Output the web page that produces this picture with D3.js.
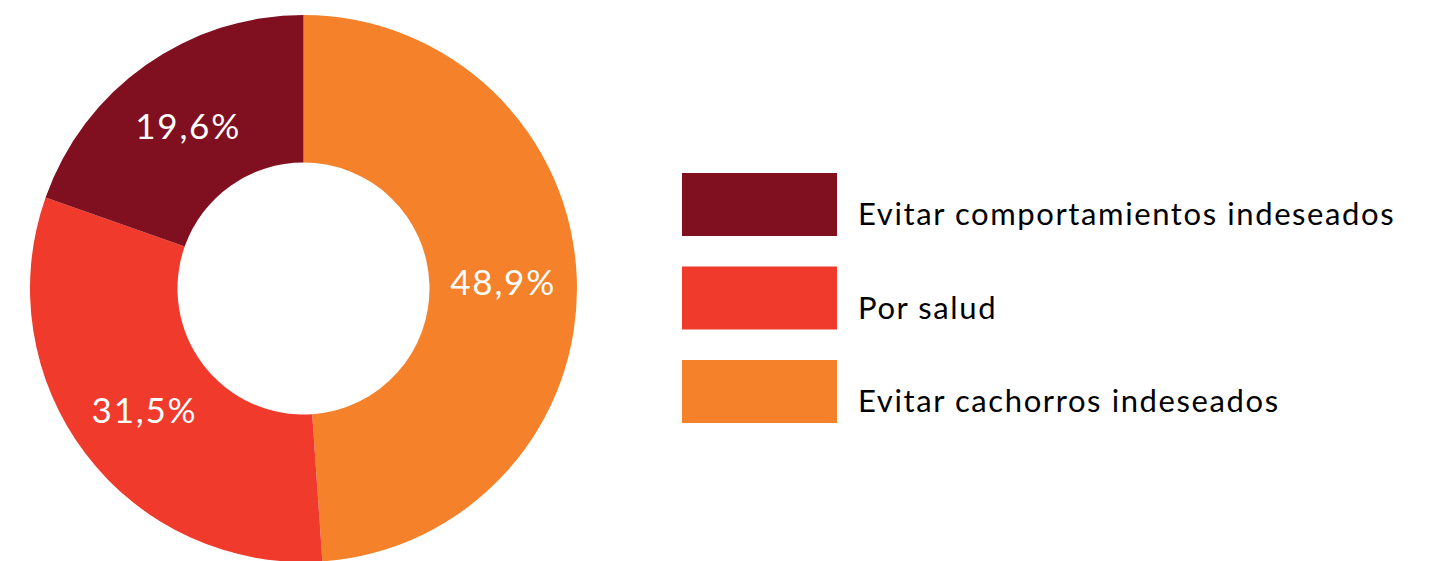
<!DOCTYPE html>
<html><head><meta charset="utf-8">
<script src="https://cdn.jsdelivr.net/npm/d3@7"></script>
<style>body{margin:0;background:#fff;} svg{display:block;}</style>
</head><body>
<svg id="c" width="1435" height="561"></svg>
<script>
const categories = ["Evitar cachorros indeseados", "Por salud", "Evitar comportamientos indeseados"];
const values = [48.9, 31.5, 19.6];
const labels = ["48,9%", "31,5%", "19,6%"];
const colors = ["#f5822a", "#ef3a2c", "#800f20"];
const legendOrder = [2, 1, 0];

const svg = d3.select("#c");
const cx = 303.5, cy = 288.5, outerR = 273.5, innerR = 126;
const g = svg.append("g").attr("transform", `translate(${cx},${cy})`);
const pie = d3.pie().sort(null).value(d => d)(values);
const arc = d3.arc().innerRadius(innerR).outerRadius(outerR);
g.selectAll("path").data(pie).enter().append("path")
  .attr("d", arc).attr("fill", (d,i) => colors[i]);
g.selectAll("text").data(pie).enter().append("text")
  .attr("transform", d => `translate(${arc.centroid(d)})`)
  .attr("text-anchor", "middle").attr("dy", "0.38em")
  .attr("fill", "#fff").style("font-family", "Lato, sans-serif").style("font-size", "35px")
  .style("letter-spacing", "1.8px")
  .text((d,i) => labels[i]);

const ly = d3.scaleBand().domain(legendOrder).range([173, 173 + 3*93.5]).paddingInner(0);
const lg = svg.append("g");
legendOrder.forEach(i => {
  const y = ly(i);
  lg.append("rect").attr("x", 682).attr("y", y).attr("width", 155).attr("height", 63).attr("fill", colors[i]);
  lg.append("text").attr("x", 858).attr("y", y + 52).attr("fill", "#000")
    .style("font-family", "Lato, sans-serif").style("font-size", "31px")
    .style("letter-spacing", "1.6px").text(categories[i]);
});
</script>
</body></html>
